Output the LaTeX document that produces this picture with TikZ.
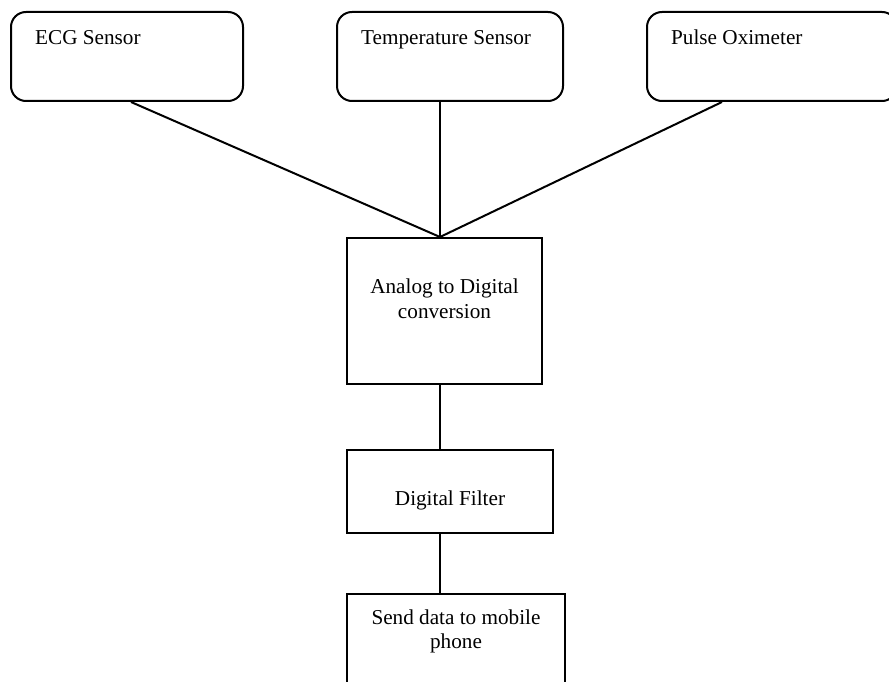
\documentclass[tikz,border=0pt]{standalone}
\usepackage{fontspec}
\setmainfont{Liberation Serif}
\tikzset{
  sensorbox/.style={draw, line width=2pt, rounded corners=15pt, inner sep=0pt},
  blockbox/.style={draw, line width=2pt, inner sep=0pt},
  txt/.style={inner sep=0pt, font=\fontsize{21.2}{24.5}\selectfont},
  conn/.style={line width=2pt}
}
\begin{document}
\begin{tikzpicture}[x=1pt,y=-1pt]
\useasboundingbox (0,0) rectangle (889,682);
% sensor boxes
\node[sensorbox, minimum width=232pt, minimum height=89pt] (ecg) at (127,56.5) {};
\node[sensorbox, minimum width=226pt, minimum height=89pt] (temp) at (450,56.5) {};
\node[sensorbox, minimum width=250pt, minimum height=89pt] (pulse) at (772,56.5) {};
\node[txt, anchor=base west] (ecgt) at (35,45) {ECG Sensor};
\node[txt, anchor=base west] (tempt) at (361,45) {Temperature Sensor};
\node[txt, anchor=base west] (pulset) at (671,45) {Pulse Oximeter};
% processing blocks
\node[blockbox, minimum width=195pt, minimum height=146pt] (adc) at (444.5,311) {};
\node[blockbox, minimum width=206pt, minimum height=83pt] (filt) at (450,491.5) {};
\node[blockbox, minimum width=218pt, minimum height=106pt] (send) at (456,647) {};
\node[txt, anchor=base] (adct1) at (444.5,293) {Analog to Digital};
\node[txt, anchor=base] (adct2) at (444.5,318) {conversion};
\node[txt, anchor=base] (filtt) at (450,505) {Digital Filter};
\node[txt, anchor=base] (sendt1) at (456,624) {Send data to mobile};
\node[txt, anchor=base] (sendt2) at (456,648) {phone};
% connectors
\coordinate (join) at ([xshift=-4.5pt]adc.north);
\draw[conn] ([xshift=4pt]ecg.south) -- (join);
\draw[conn] ([xshift=-10pt]temp.south) -- (join);
\draw[conn] ([xshift=-50pt]pulse.south) -- (join);
\draw[conn] ([xshift=-4.5pt]adc.south) -- ([xshift=-10pt]filt.north);
\draw[conn] ([xshift=-10pt]filt.south) -- ([xshift=-16pt]send.north);
\end{tikzpicture}
\end{document}
